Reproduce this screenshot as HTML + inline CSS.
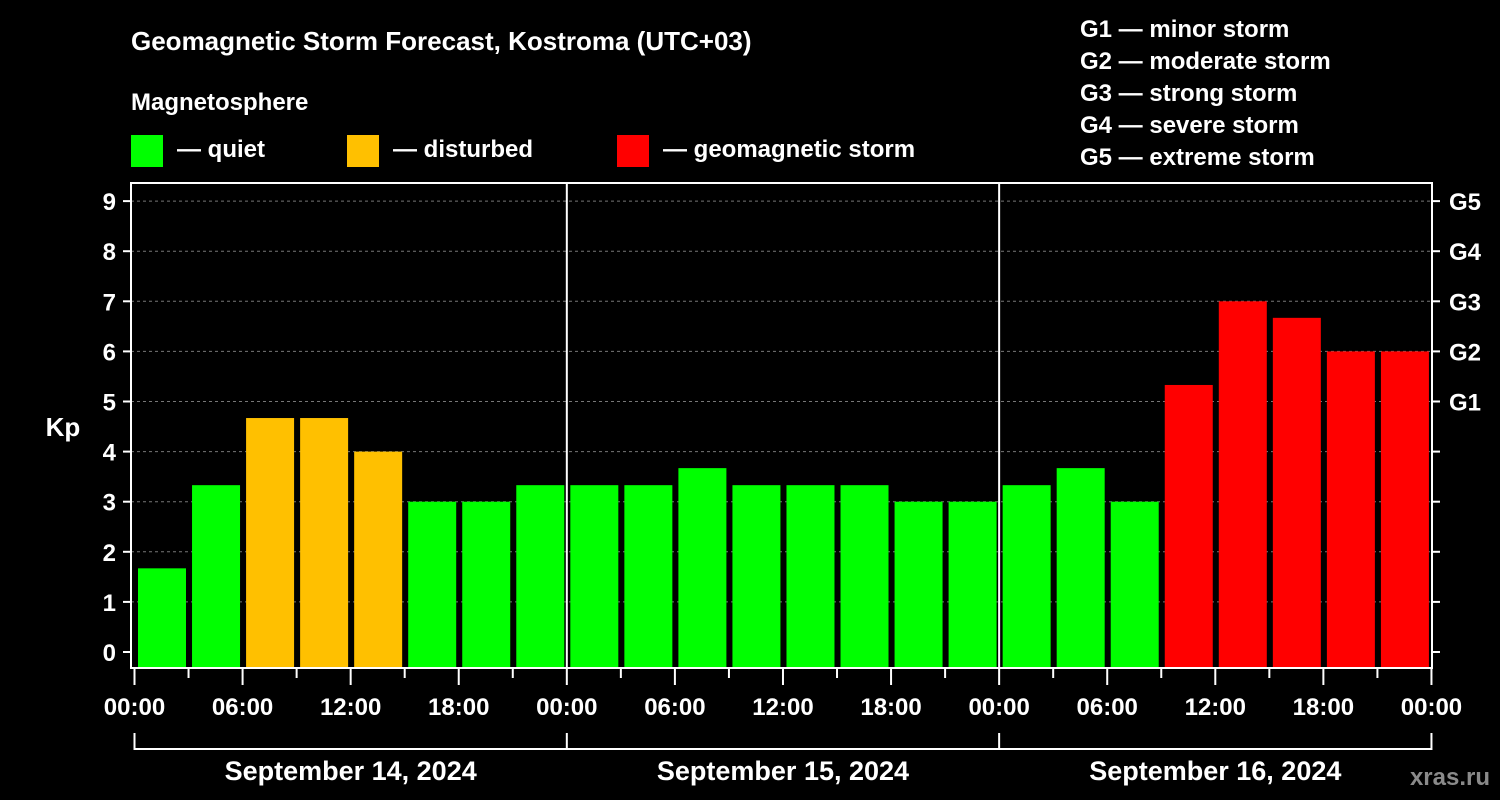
<!DOCTYPE html>
<html><head><meta charset="utf-8"><style>
html,body{margin:0;padding:0;background:#000;width:1500px;height:800px;overflow:hidden}
svg{display:block}
text{font-family:"Liberation Sans",sans-serif;font-weight:bold;fill:#fff}
</style></head><body>
<svg id="chart" width="1500" height="800">
<text x="131" y="50" font-size="26">Geomagnetic Storm Forecast, Kostroma (UTC+03)</text>
<text x="131" y="110" font-size="24">Magnetosphere</text>
<g><rect x="131" y="135" width="32" height="32" fill="#00ff00"/><text x="177" y="157" font-size="24">— quiet</text></g>
<g><rect x="347" y="135" width="32" height="32" fill="#ffc000"/><text x="393" y="157" font-size="24">— disturbed</text></g>
<g><rect x="617" y="135" width="32" height="32" fill="#ff0000"/><text x="663" y="157" font-size="24">— geomagnetic storm</text></g>
<g font-size="24">
<text x="1080" y="37">G1 — minor storm</text>
<text x="1080" y="69">G2 — moderate storm</text>
<text x="1080" y="101">G3 — strong storm</text>
<text x="1080" y="133">G4 — severe storm</text>
<text x="1080" y="165">G5 — extreme storm</text>
</g>
<text x="63" y="436" font-size="26" text-anchor="middle">Kp</text>
<text x="1490" y="785" font-size="24" text-anchor="end" fill="#888" style="fill:#8a8a8a">xras.ru</text>
<g id="grid"></g><g id="bars"></g><g id="axes"></g>
</svg>
<script>
const kpValues=[1.67,3.33,4.67,4.67,4.0,3.0,3.0,3.33,3.33,3.33,3.67,3.33,3.33,3.33,3.0,3.0,3.33,3.67,3.0,5.33,7.0,6.67,6.0,6.0];
const yTicks=[0,1,2,3,4,5,6,7,8,9];
const gLabels=[[5,"G1"],[6,"G2"],[7,"G3"],[8,"G4"],[9,"G5"]];
const xTickLabels=["00:00","06:00","12:00","18:00","00:00","06:00","12:00","18:00","00:00","06:00","12:00","18:00","00:00"];
const dayLabels=["September 14, 2024","September 15, 2024","September 16, 2024"];
const NS="http://www.w3.org/2000/svg";
const X0=134.5,SLOT=54.04,Y0=652,YU=50.1,TOP=183,BOT=668,L=131,R=1432;
const xs=i=>X0+i*SLOT, ys=v=>Y0-v*YU;
function mk(tag,a,p){const e=document.createElementNS(NS,tag);for(const k in a)e.setAttribute(k,a[k]);p.appendChild(e);return e;}
const grid=document.getElementById('grid'),bars=document.getElementById('bars'),axes=document.getElementById('axes');
yTicks.forEach(v=>{if(v>0){const l=mk('line',{x1:L,x2:R,y1:ys(v),y2:ys(v),stroke:'#777','stroke-dasharray':'3,3','stroke-width':1},grid);

}
const t=mk('text',{x:116,y:ys(v)+9,'font-size':24,'text-anchor':'end'},axes);t.textContent=v;


mk('line',{x1:123,x2:L,y1:ys(v),y2:ys(v),stroke:'#fff','stroke-width':2},axes);
mk('line',{x1:R,x2:R+8,y1:ys(v),y2:ys(v),stroke:'#fff','stroke-width':2},axes);});
gLabels.forEach(([v,s])=>{const t=mk('text',{x:1449,y:ys(v)+9,'font-size':24},axes);t.textContent=s;

});
kpValues.forEach((v,i)=>{const c=v>=5?'#ff0000':v>=4?'#ffc000':'#00ff00';
const r=mk('rect',{x:xs(i)+3.5,y:ys(v),width:48,height:BOT-ys(v),fill:c},bars);

});
mk('rect',{x:L,y:TOP,width:R-L,height:BOT-TOP,fill:'none',stroke:'#fff','stroke-width':2},axes);
[1,2].forEach(d=>mk('line',{x1:xs(d*8),x2:xs(d*8),y1:TOP,y2:BOT,stroke:'#fff','stroke-width':2},axes));
for(let i=0;i<=24;i++){const major=i%2==0;mk('line',{x1:xs(i),x2:xs(i),y1:BOT,y2:major?685:678,stroke:'#fff','stroke-width':2},axes);}
xTickLabels.forEach((s,k)=>{const t=mk('text',{x:xs(k*2),y:715,'font-size':24,'text-anchor':'middle'},axes);t.textContent=s;

});
mk('polyline',{points:`${xs(0)},733 ${xs(0)},749 ${xs(24)},749 ${xs(24)},733`,fill:'none',stroke:'#fff','stroke-width':2},axes);
[1,2].forEach(d=>mk('line',{x1:xs(d*8),x2:xs(d*8),y1:733,y2:749,stroke:'#fff','stroke-width':2},axes));
dayLabels.forEach((s,d)=>{const t=mk('text',{x:xs(d*8+4),y:780,'font-size':27,'text-anchor':'middle'},axes);t.textContent=s;

});
</script>
</body></html>
